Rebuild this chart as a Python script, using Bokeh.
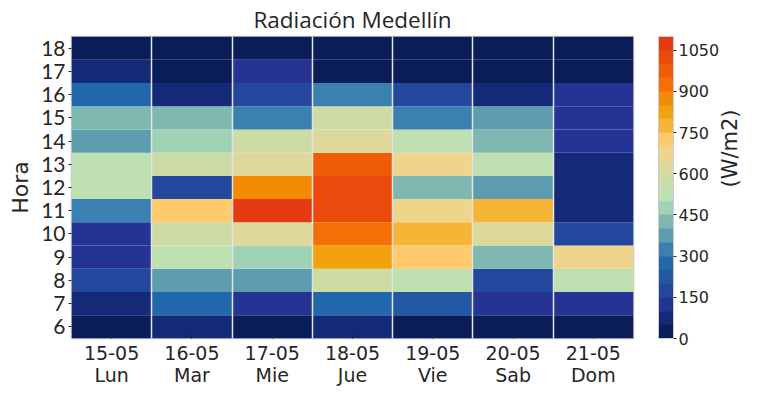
import math
from bokeh.plotting import figure
from bokeh.models import (LinearColorMapper, ColorBar, FixedTicker, ColumnDataSource,
                          LinearAxis, Range1d)
from bokeh.embed import file_html
from bokeh.resources import INLINE

# ---- data ----
days = ["15-05\nLun", "16-05\nMar", "17-05\nMie", "18-05\nJue", "19-05\nVie", "20-05\nSab", "21-05\nDom"]
hours = [6, 7, 8, 9, 10, 11, 12, 13, 14, 15, 16, 17, 18]
lun = [20, 80, 170, 130, 130, 320, 530, 520, 380, 420, 270, 70, 20]
mar = [70, 280, 370, 530, 570, 720, 170, 570, 480, 420, 80, 20, 20]
mie = [20, 130, 380, 470, 620, 1070, 870, 630, 570, 320, 170, 130, 20]
jue = [70, 270, 570, 820, 920, 1020, 1030, 980, 630, 570, 330, 20, 20]
vie = [20, 230, 530, 720, 780, 670, 420, 680, 520, 330, 170, 20, 20]
sab = [20, 130, 180, 420, 620, 770, 380, 520, 420, 370, 80, 20, 20]
dom = [20, 130, 530, 680, 170, 80, 80, 70, 130, 130, 130, 20, 20]
series = [lun, mar, mie, jue, vie, sab, dom]
cbar_ticks = [0, 150, 300, 450, 600, 750, 900, 1050]

palette = ["#0a1d58", "#142a78", "#253494", "#23479d", "#2257a3", "#2167ab",
           "#3a80b0", "#5e9db0", "#7fb8b0", "#a0d3b6", "#bfe0b0", "#cddca5",
           "#dcd99a", "#efd48c", "#fdca6e", "#f5b536", "#f2a20c", "#f38b07",
           "#f56f05", "#f05b07", "#ea4a0c", "#e83a12"]

xs, ys, vs = [], [], []
for i, col in enumerate(series):
    for h, v in zip(hours, col):
        xs.append(i + 0.5)
        ys.append(h)
        vs.append(v)
src = ColumnDataSource(dict(x=xs, y=ys, v=vs))

mapper = LinearColorMapper(palette=palette, low=0, high=1100)

FONT_T = "Open Sans"
FONT_Y = "Lato"
FONT = "DejaVu Sans"
TXT = "#262626"

p = figure(width=756, frame_height=302, output_backend="svg", toolbar_location=None,
           x_range=Range1d(0, 7), y_range=Range1d(5.5, 18.5),
           min_border_left=71, min_border_right=119, min_border_top=33, min_border_bottom=5)

p.rect(x="x", y="y", width=1, height=1, source=src,
       fill_color={"field": "v", "transform": mapper}, line_color=None)

p.title.text = "Radiación Medellín"
p.title.align = "center"
p.title.text_font = FONT_T
p.title.text_font_size = "22.5px"
p.title.text_font_style = "normal"
p.title.text_color = TXT
p.title.standoff = 3

# axes
p.xaxis.ticker = FixedTicker(ticks=[i + 0.5 for i in range(len(days))])
p.xaxis.major_label_overrides = {i + 0.5: d for i, d in enumerate(days)}
p.xaxis.major_label_text_font = FONT
p.xaxis.major_label_text_font_size = "19px"
p.xaxis.major_label_text_line_height = 1.0
p.xaxis.major_label_text_color = TXT
p.xaxis.major_tick_in = 5
p.xaxis.major_tick_out = 0
p.xaxis.minor_tick_line_color = None
p.xaxis.axis_line_color = None
p.xaxis.major_tick_line_color = TXT
p.xaxis.major_label_standoff = 3

p.yaxis.ticker = FixedTicker(ticks=hours)
p.yaxis.major_label_text_font = FONT_Y
p.yaxis.major_label_text_font_size = "21px"
p.yaxis.major_label_text_color = TXT
p.yaxis.major_tick_in = 0
p.yaxis.major_tick_out = 3
p.yaxis.minor_tick_line_color = None
p.yaxis.axis_line_color = None
p.yaxis.major_tick_line_color = TXT
p.yaxis.axis_label = "Hora"
p.yaxis.axis_label_text_font = FONT
p.yaxis.axis_label_text_font_size = "22px"
p.yaxis.axis_label_text_font_style = "normal"
p.yaxis.axis_label_text_color = TXT
p.yaxis.major_label_standoff = 3

p.ygrid.grid_line_color = None
p.xgrid.ticker = FixedTicker(ticks=[1, 2, 3, 4, 5, 6])
p.xgrid.grid_line_color = "#e4e4e4"
p.xgrid.grid_line_width = 1.5
p.xgrid.level = "overlay"

p.outline_line_color = "#cccccc"
p.outline_line_width = 1.5

cb = ColorBar(color_mapper=mapper, ticker=FixedTicker(ticks=cbar_ticks),
              width=15, height=302, location=(25, 0), padding=0,
              bar_line_color="#cccccc", bar_line_width=1,
              major_tick_line_color=TXT, major_tick_in=0, major_tick_out=3,
              minor_tick_line_color=None,
              major_label_text_font=FONT, major_label_text_font_size="16px",
              major_label_text_color=TXT, label_standoff=2,
              background_fill_color=None, border_line_color=None)
p.add_layout(cb, "right")

unit_axis = LinearAxis(ticker=FixedTicker(ticks=[]), axis_label="(W/m2)",
                       axis_label_text_font=FONT, axis_label_text_font_size="21px",
                       axis_label_text_font_style="normal", axis_label_text_color=TXT,
                       axis_line_color=None, major_tick_line_color=None,
                       minor_tick_line_color=None, axis_label_standoff=7)
if "axis_label_orientation" in unit_axis.properties():
    unit_axis.axis_label_orientation = math.pi / 2
p.add_layout(unit_axis, "right")

open("out.html", "w").write(file_html(p, INLINE))
